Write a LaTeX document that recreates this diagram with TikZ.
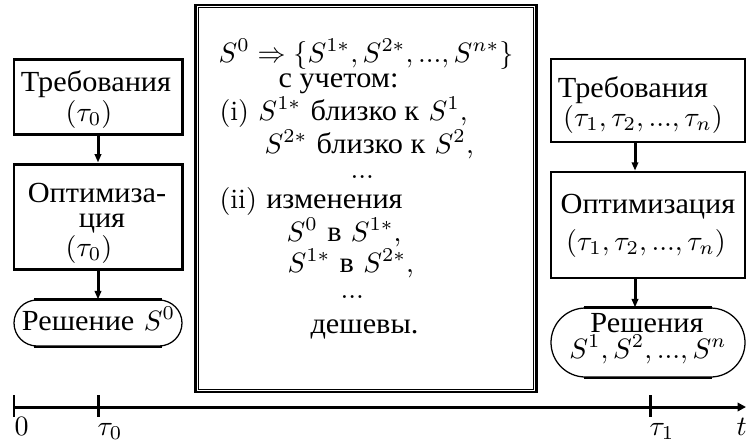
\documentclass[tikz,border=0pt]{standalone}
\usepackage{fontspec}
\newfontfamily\cyr{Liberation Serif}[Scale=1.04,FakeStretch=1.04]
\usetikzlibrary{arrows.meta,shapes.misc}
\begin{document}
\begin{tikzpicture}[x=0.357pt,y=-0.357pt,
  lbox/.style={draw, line width=1.07pt, inner sep=0pt, minimum width=168*0.357pt},
  rbox/.style={draw, line width=0.95pt, inner sep=0pt, minimum width=194*0.357pt},
  pill/.style={rounded rectangle, draw, line width=0.45pt, inner sep=0pt},
  flat/.style={line width=0.8pt},
  flow/.style={line width=1.07pt, -{Triangle[length=3pt,width=2.3pt]}},
  axis/.style={line width=1.07pt, -{Triangle[length=3pt,width=3pt]}},
  tick/.style={line width=1.07pt},
  txt/.style={anchor=base, inner sep=0pt, font=\fontsize{10}{12}\selectfont},
  ln/.style={anchor=base west, inner sep=0pt, font=\fontsize{10}{12}\selectfont},
]
\useasboundingbox (0,0) rectangle (746,445);

% left column
\node[lbox, minimum height=75*0.357pt] (lb1) at (98,96.5) {};
\node[txt] (lb1a) at (96,91) {\cyr Требования};
\node[txt] (lb1b) at (89,121) {$(\tau_0)$};
\node[lbox, minimum height=105*0.357pt] (lb2) at (98,216.5) {};
\node[txt] (lb2a) at (97,202) {\cyr Оптимиза-};
\node[txt] (lb2b) at (102,227) {\cyr ция};
\node[txt] (lb2c) at (89,256) {$(\tau_0)$};
\node[pill, minimum width=168*0.357pt, minimum height=46*0.357pt] (lp) at (98,323) {};
\draw[flat] ([xshift=-64*0.357pt]lp.north) -- ([xshift=64*0.357pt]lp.north);
\draw[flat] ([xshift=-64*0.357pt]lp.south) -- ([xshift=64*0.357pt]lp.south);
\node[txt] (lpt) at (98.5,330) {{\cyr Решение} $S^0$};
\draw[flow] (lb1.south) -- (lb2.north);
\draw[flow] (lb2.south) -- (lp.north);

% central frame
\node[draw, line width=0.85pt, inner sep=0pt, minimum width=341*0.357pt,
  minimum height=387*0.357pt] (mid) at (366,198.5) {};
\draw[line width=0.45pt] ([shift={(4,4)}]mid.north west) rectangle ([shift={(-4,-4)}]mid.south east);
\node[ln] (m1) at (218,62) {$S^0 \Rightarrow \{S^{1*}, S^{2*}, ..., S^{n*}\}$};
\node[ln] (m2) at (278,87) {\cyr с учетом:};
\node[ln] (m3) at (219,120) {(i) $S^{1*}$ {\cyr близко к} $S^1$,};
\node[ln] (m4) at (264,153) {$S^{2*}$ {\cyr близко к} $S^2$,};
\node[ln] (m5) at (350,178) {...};
\node[ln] (m6) at (219,208) {(ii) {\cyr изменения}};
\node[ln] (m7) at (286,241) {$S^0$ {\cyr в} $S^{1*}$,};
\node[ln] (m8) at (287,272) {$S^{1*}$ {\cyr в} $S^{2*}$,};
\node[ln] (m9) at (340,298) {...};
\node[ln] (m10) at (310,333) {\cyr дешевы.};

% right column
\node[rbox, minimum height=83*0.357pt] (rb1) at (648,100.5) {};
\node[txt] (rb1a) at (633,97) {\cyr Требования};
\node[txt] (rb1b) at (643,126) {$(\tau_1, \tau_2, ..., \tau_n)$};
\node[rbox, minimum height=106*0.357pt] (rb2) at (648,225) {};
\node[txt] (rb2a) at (648,213) {\cyr Оптимизация};
\node[txt] (rb2b) at (646,250) {$(\tau_1, \tau_2, ..., \tau_n)$};
\node[pill, minimum width=194*0.357pt, minimum height=69*0.357pt] (rp) at (648,342.5) {};
\draw[flat] ([xshift=-64*0.357pt]rp.north) -- ([xshift=64*0.357pt]rp.north);
\draw[flat] ([xshift=-64*0.357pt]rp.south) -- ([xshift=64*0.357pt]rp.south);
\node[txt] (rpa) at (647,332) {\cyr Решения};
\node[txt] (rpb) at (648,358) {$S^1, S^2, ..., S^n$};
\coordinate (ra) at (635,0);
\draw[flow] (rb1.south -| ra) -- (rb2.north -| ra);
\draw[flow] (rb2.south -| ra) -- (rp.north -| ra);

% time axis
\coordinate (o) at (14,407);
\coordinate (tend) at (746,407);
\draw[axis] (o) -- (tend);
\draw[tick] (14,395) -- (14,417);
\draw[tick] (98,395) -- (98,417);
\draw[tick] (650,395) -- (650,417);
\node[ln] (l0) at (14,435) {0};
\node[ln] (lt0) at (97,435) {$\tau_0$};
\node[ln] (lt1) at (649,435) {$\tau_1$};
\node[ln] (lt) at (736,435) {$t$};
\end{tikzpicture}
\end{document}
